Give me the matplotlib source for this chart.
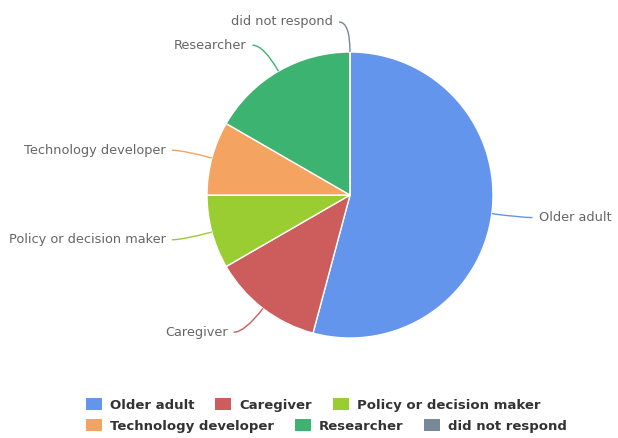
import matplotlib
matplotlib.use("Agg")

import matplotlib.pyplot as plt
import numpy as np
from matplotlib.patches import Patch, PathPatch
from matplotlib.path import Path

# Respondent roles (counts)
roles = ["Older adult", "Caregiver", "Policy or decision maker",
         "Technology developer", "Researcher", "did not respond"]
counts = [13, 3, 2, 2, 4, 0]
colors = ["#6495ED", "#CD5C5C", "#9ACD32", "#F4A460", "#3CB371", "#778899"]

W, H = 618, 438
CENTER = (350, H - 195)
RADIUS = 143
LABEL_DIST = 30
LABEL_COLOR = "#666666"
LABEL_FONT = 9.3
LEGEND_FONT = 9.5

fig = plt.figure(figsize=(W / 100, H / 100), dpi=100)
ax = fig.add_axes([0, 0, 1, 1])

wedges, _ = ax.pie(counts, colors=colors, startangle=90, counterclock=False,
                   center=CENTER, radius=RADIUS, frame=True,
                   wedgeprops=dict(edgecolor="white", linewidth=1))
ax.set_xlim(0, W)
ax.set_ylim(0, H)
ax.set_aspect("equal")
ax.axis("off")

# data labels with curved connectors
for w, label, color in zip(wedges, roles, colors):
    ang = np.deg2rad((w.theta1 + w.theta2) / 2)
    cx, cy = CENTER
    edge = (cx + RADIUS * np.cos(ang), cy + RADIUS * np.sin(ang))
    anchor = (cx + (RADIUS + LABEL_DIST) * np.cos(ang),
              cy + (RADIUS + LABEL_DIST) * np.sin(ang))
    right = np.cos(ang) > 1e-6
    side = 1 if right else -1
    start = (anchor[0] + side * 11, anchor[1])
    path = Path([start, anchor, edge], [Path.MOVETO, Path.CURVE3, Path.CURVE3])
    ax.add_patch(PathPatch(path, facecolor="none", edgecolor=color, lw=1))
    ax.text(anchor[0] + side * 17, anchor[1], label,
            ha="left" if right else "right", va="center",
            fontsize=LABEL_FONT, color=LABEL_COLOR)

# two-row legend, rows left aligned
handles = [Patch(facecolor=c, edgecolor="none") for c in colors]
legend_kw = dict(loc="center left", frameon=False, ncol=3,
                 prop=dict(size=LEGEND_FONT, weight="bold"),
                 handlelength=1.2, handleheight=1.05, handletextpad=0.6,
                 columnspacing=1.6, borderpad=0, borderaxespad=0)
for row, y in [(0, 1 - 405 / H), (1, 1 - 426 / H)]:
    leg = fig.legend(handles[row * 3:row * 3 + 3], roles[row * 3:row * 3 + 3],
                     bbox_to_anchor=(86 / W, y), **legend_kw)
    for t in leg.get_texts():
        t.set_color("#333333")

fig.savefig("out.png", dpi=100)
